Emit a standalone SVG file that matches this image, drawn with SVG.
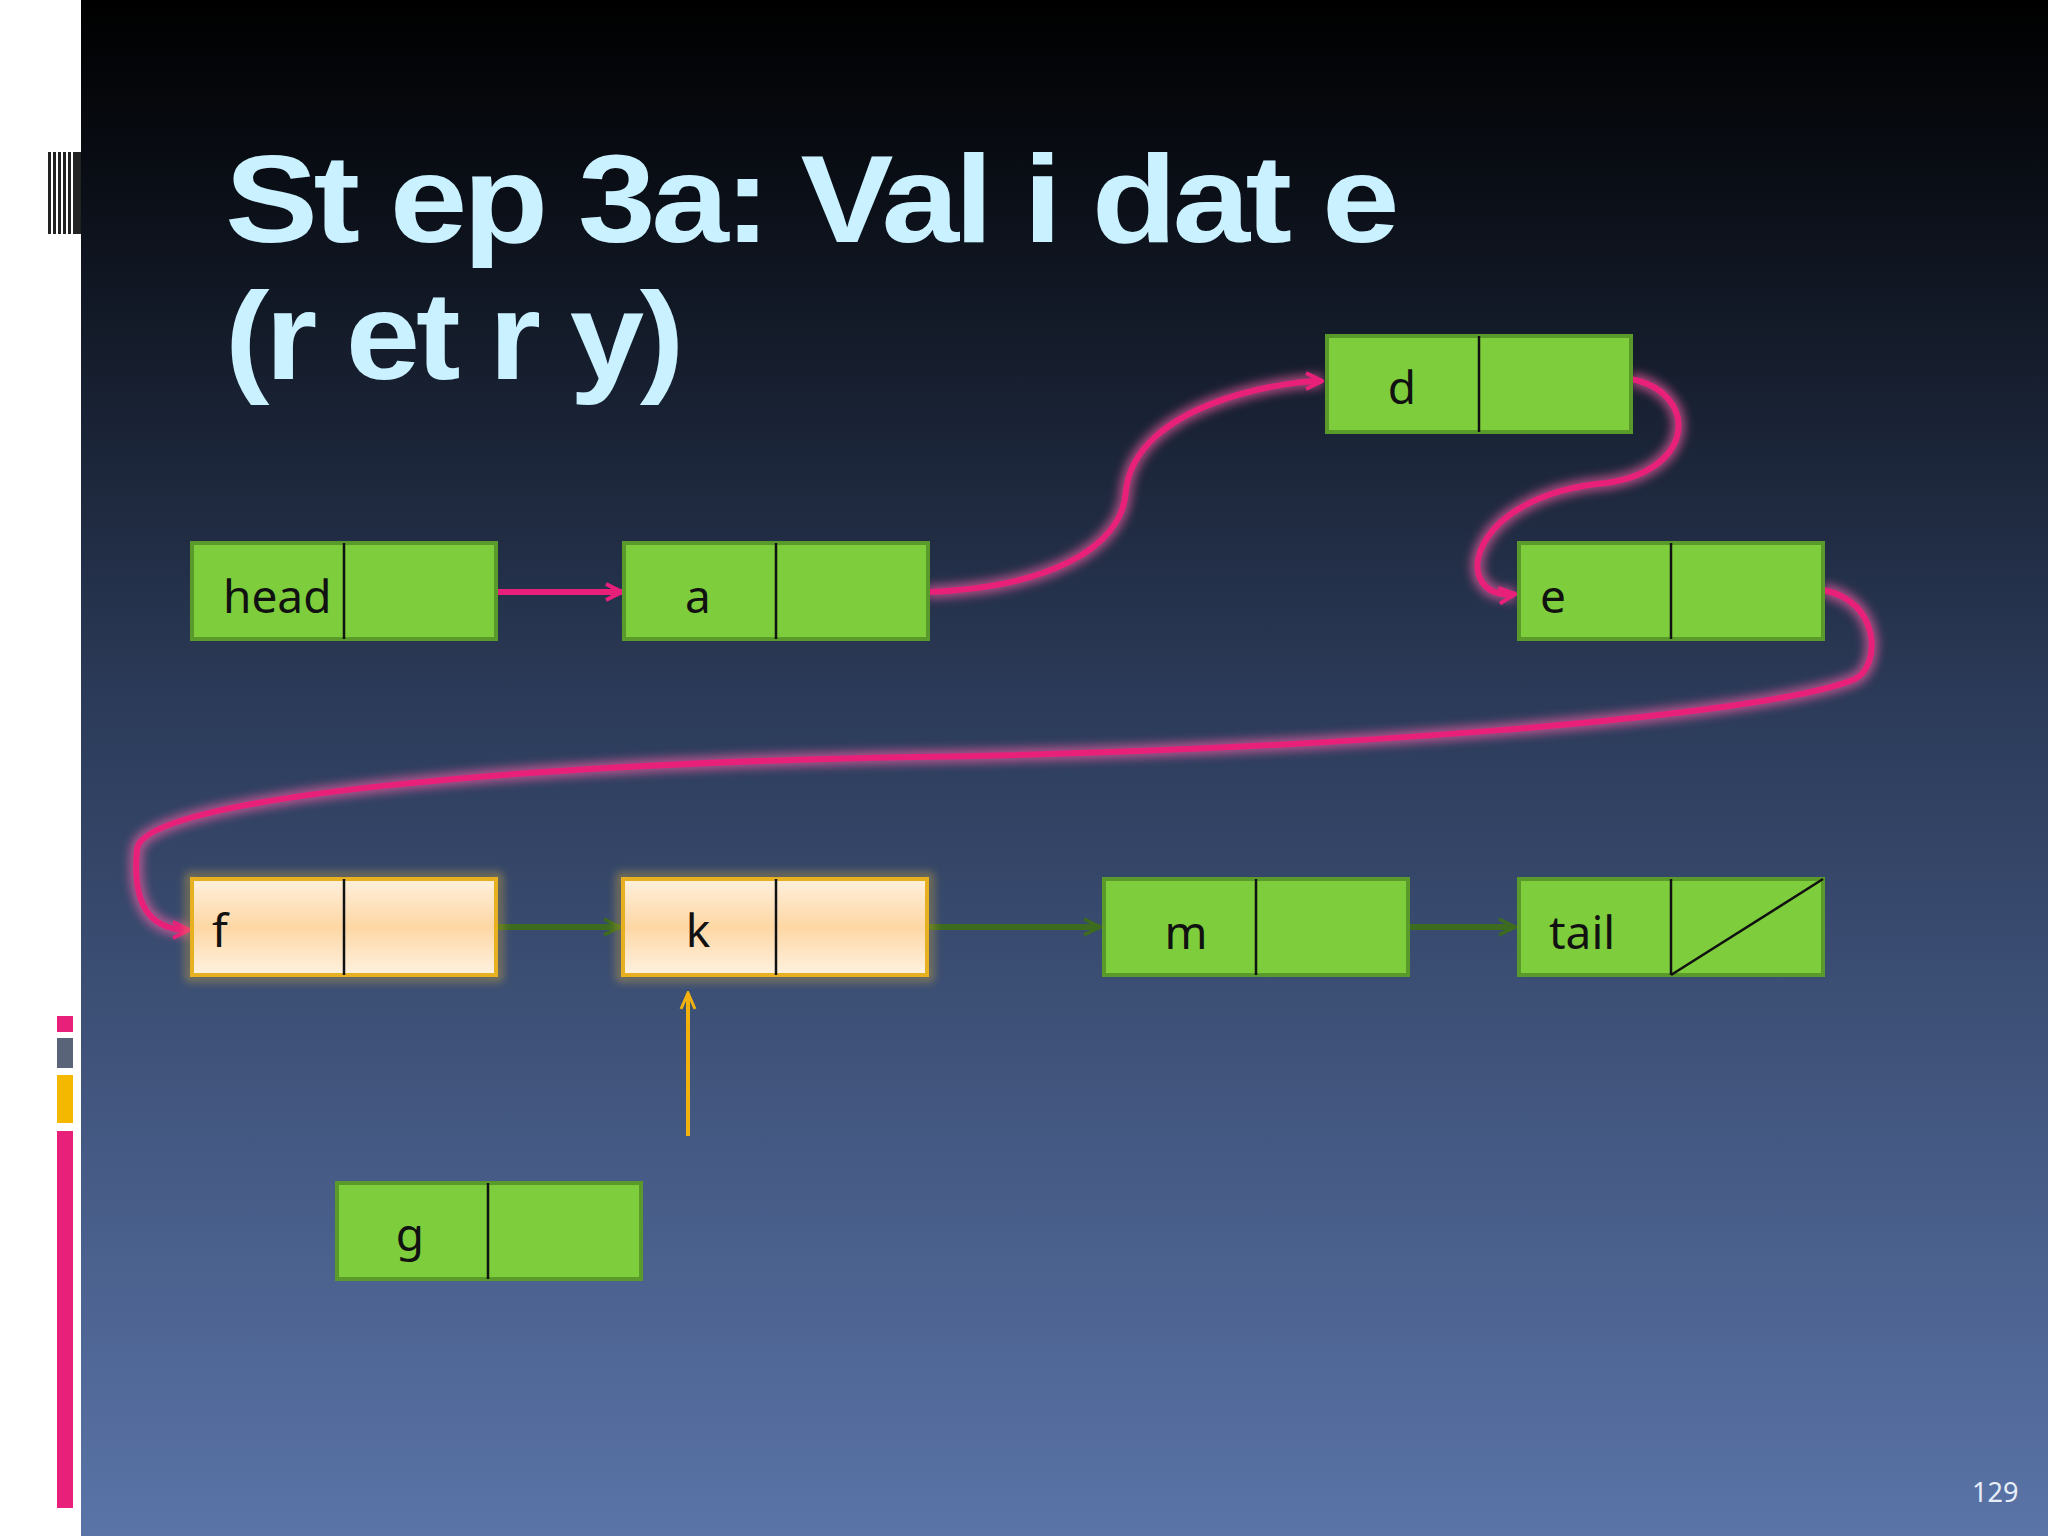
<svg xmlns="http://www.w3.org/2000/svg" width="2048" height="1536" viewBox="0 0 2048 1536">
<defs>
<linearGradient id="bg" x1="0" y1="0" x2="0" y2="1">
<stop offset="0" stop-color="#000000"/><stop offset="0.12" stop-color="#0a0e16"/><stop offset="0.45" stop-color="#2b3a58"/><stop offset="1" stop-color="#5a74a8"/>
</linearGradient>
<linearGradient id="og" x1="0" y1="0" x2="0" y2="1">
<stop offset="0" stop-color="#fff0dc"/><stop offset="0.5" stop-color="#fdd7a4"/><stop offset="1" stop-color="#fff2e0"/>
</linearGradient>
<filter id="glow" x="-20%" y="-20%" width="140%" height="140%"><feGaussianBlur stdDeviation="5"/></filter>
<marker id="pk" viewBox="0 0 20 20" refX="18" refY="10" markerWidth="20" markerHeight="20" markerUnits="userSpaceOnUse" orient="auto"><path d="M2,2 L18,10 L2,18" fill="none" stroke="#e8207a" stroke-width="4"/></marker>
<marker id="gr" viewBox="0 0 20 20" refX="18" refY="10" markerWidth="20" markerHeight="20" markerUnits="userSpaceOnUse" orient="auto"><path d="M2,2 L18,10 L2,18" fill="none" stroke="#3d6b1f" stroke-width="3.5"/></marker>
<marker id="or" viewBox="0 0 20 20" refX="18" refY="10" markerWidth="20" markerHeight="20" markerUnits="userSpaceOnUse" orient="auto"><path d="M2,3 L18,10 L2,17" fill="none" stroke="#f2b20e" stroke-width="3"/></marker>
<style>
.box{fill:#7dcd3c;stroke:#5a9a2a;stroke-width:4}
.obox{fill:url(#og);stroke:#e6b020;stroke-width:4}
.div{stroke:#111;stroke-width:2.5}
.lbl{font-family:"Noto Sans","Open Sans",sans-serif;font-size:46px;fill:#111}
.pg{fill:none;stroke:#ff60a8;stroke-width:14;opacity:0.6;filter:url(#glow)}
.p{fill:none;stroke:#e8207a;stroke-width:6}
.g{fill:none;stroke:#3d6b1f;stroke-width:6}
</style>
</defs>
<rect width="2048" height="1536" fill="url(#bg)"/>
<rect width="81" height="1536" fill="#ffffff"/>
<g fill="#111">
<rect x="48" y="152" width="33" height="82" fill="#222"/>
<g stroke="#fff" stroke-width="2"><line x1="52" y1="152" x2="52" y2="234"/><line x1="57" y1="152" x2="57" y2="234"/><line x1="62" y1="152" x2="62" y2="234"/><line x1="67" y1="152" x2="67" y2="234"/><line x1="72" y1="152" x2="72" y2="234"/></g>
</g>
<rect x="57" y="1016" width="16" height="16" fill="#e8207a"/>
<rect x="57" y="1038" width="16" height="30" fill="#5a6478"/>
<rect x="57" y="1075" width="16" height="48" fill="#f5b800"/>
<rect x="57" y="1131" width="16" height="377" fill="#e8207a"/>
<g font-family="'Liberation Sans',Arial,sans-serif" font-size="125" fill="#c9f1ff" font-weight="bold" letter-spacing="-4">
<text x="225" y="242" textLength="1170" lengthAdjust="spacingAndGlyphs">St ep 3a:  Val i dat e</text>
<text x="225" y="379" textLength="455" lengthAdjust="spacingAndGlyphs">(r et r y)</text>
</g>
<g id="connectors">
<path class="pg" d="M413,592 L622,592"/>
<path class="p" d="M413,592 L622,592" marker-end="url(#pk)"/>
<path class="pg" d="M927,592 C1045,588 1123,549 1126,490 C1136,405 1280,381 1322,381"/>
<path class="p" d="M927,592 C1045,588 1123,549 1126,490 C1136,405 1280,381 1322,381" marker-end="url(#pk)"/>
<path class="pg" d="M1631,379 C1698,392 1698,470 1606,483 C1463,496 1450,601 1515,594"/>
<path class="p" d="M1631,379 C1698,392 1698,470 1606,483 C1463,496 1450,601 1515,594" marker-end="url(#pk)"/>
<path class="pg" d="M1823,590 C1881,601 1881,666 1855,679 C1763,718 1306,751 914,757 C522,764 144,797 137,849 C131,914 157,930 189,930"/>
<path class="p" d="M1823,590 C1881,601 1881,666 1855,679 C1763,718 1306,751 914,757 C522,764 144,797 137,849 C131,914 157,930 189,930" marker-end="url(#pk)"/>
<path class="g" d="M415,927 L620,927" marker-end="url(#gr)"/>
<path class="g" d="M896,927 L1100,927" marker-end="url(#gr)"/>
<path class="g" d="M1327,927 L1515,927" marker-end="url(#gr)"/>
<path d="M688,1136 L688,993" fill="none" stroke="#f2b20e" stroke-width="4" marker-end="url(#or)"/>
</g>
<g id="head"><rect class="box" x="192" y="543" width="304" height="96"/><line class="div" x1="344" y1="543" x2="344" y2="639"/><text class="lbl" x="223" y="613">head</text></g>
<g id="a"><rect class="box" x="624" y="543" width="304" height="96"/><line class="div" x1="776" y1="543" x2="776" y2="639"/><text class="lbl" x="698" y="613" text-anchor="middle">a</text></g>
<g id="d"><rect class="box" x="1327" y="336" width="304" height="96"/><line class="div" x1="1479" y1="336" x2="1479" y2="432"/><text class="lbl" x="1402" y="404" text-anchor="middle">d</text></g>
<g id="e"><rect class="box" x="1519" y="543" width="304" height="96"/><line class="div" x1="1671" y1="543" x2="1671" y2="639"/><text class="lbl" x="1540" y="613">e</text></g>
<g id="f"><rect x="189" y="876" width="310" height="102" fill="none" stroke="#f5c030" stroke-width="6" opacity="0.5" filter="url(#glow)"/><rect class="obox" x="192" y="879" width="304" height="96"/><line class="div" x1="344" y1="879" x2="344" y2="975"/><text class="lbl" x="212" y="947">f</text></g>
<g id="k"><rect x="620" y="876" width="310" height="102" fill="none" stroke="#f5c030" stroke-width="6" opacity="0.5" filter="url(#glow)"/><rect class="obox" x="623" y="879" width="304" height="96"/><line class="div" x1="776" y1="879" x2="776" y2="975"/><text class="lbl" x="698" y="947" text-anchor="middle">k</text></g>
<g id="m"><rect class="box" x="1104" y="879" width="304" height="96"/><line class="div" x1="1256" y1="879" x2="1256" y2="975"/><text class="lbl" x="1186" y="949" text-anchor="middle">m</text></g>
<g id="tail"><rect class="box" x="1519" y="879" width="304" height="96"/><line class="div" x1="1671" y1="879" x2="1671" y2="975"/><line class="div" x1="1671" y1="975" x2="1823" y2="879"/><text class="lbl" x="1549" y="949">tail</text></g>
<g id="g"><rect class="box" x="337" y="1183" width="304" height="96"/><line class="div" x1="488" y1="1183" x2="488" y2="1279"/><text class="lbl" x="410" y="1251" text-anchor="middle">g</text></g>
<text x="1972" y="1502" font-family="'Noto Sans',sans-serif" font-size="27" fill="#e8eef8">129</text>
</svg>
